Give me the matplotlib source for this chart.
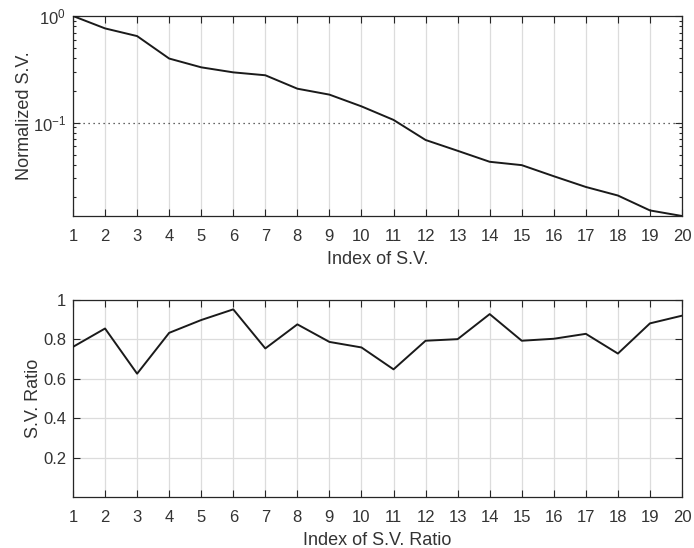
import matplotlib
matplotlib.use("Agg")
import matplotlib.pyplot as plt
from matplotlib.ticker import FixedLocator, FixedFormatter, LogLocator, NullFormatter

plt.rcParams['font.family'] = ['Liberation Sans', 'DejaVu Sans']
plt.rcParams['mathtext.fontset'] = 'custom'
plt.rcParams['mathtext.rm'] = 'Liberation Sans'

idx = list(range(1, 21))
sv = [1.0, 0.765, 0.648, 0.399, 0.330, 0.296, 0.278, 0.208, 0.183, 0.142,
      0.106, 0.0687, 0.0544, 0.0429, 0.0399, 0.0314, 0.0249, 0.0207, 0.0150, 0.0133]
ratio = [0.761, 0.854, 0.625, 0.832, 0.897, 0.951, 0.753, 0.875, 0.786, 0.758,
         0.647, 0.792, 0.800, 0.927, 0.792, 0.802, 0.827, 0.727, 0.880, 0.919]
xlabels = [str(i) for i in idx]
ratio_ticks = [0.2, 0.4, 0.6, 0.8, 1.0]
ratio_tick_labels = ['0.2', '0.4', '0.6', '0.8', '1']

W, H = 694, 548
fig = plt.figure(figsize=(W / 100, H / 100), dpi=100)
txt = '#333333'
fs = 12
lfs = 13

def style(ax):
    for s in ax.spines.values():
        s.set_color('#262626')
        s.set_linewidth(0.9)
    ax.tick_params(axis='both', which='both', direction='in', top=True, right=True,
                   colors='#262626', labelcolor=txt, labelsize=fs, width=0.8)
    ax.tick_params(axis='both', which='major', length=5)
    ax.tick_params(axis='both', which='minor', length=2.5)
    ax.tick_params(axis='x', pad=9.5)
    ax.tick_params(axis='y', pad=5)

# Top axes
ax1 = fig.add_axes([73 / W, 1 - 216 / H, 609 / W, 200 / H])
ax1.plot(idx, sv, color='#1a1a1a', lw=1.4, zorder=3)
ax1.set_yscale('log')
ax1.set_xlim(1, 20)
ax1.set_ylim(min(sv), 1)
ax1.xaxis.set_major_locator(FixedLocator(idx))
ax1.xaxis.set_major_formatter(FixedFormatter(xlabels))
ax1.yaxis.set_major_locator(FixedLocator([0.1, 1.0]))
ax1.yaxis.set_major_formatter(FixedFormatter([r'$\mathregular{10^{-1}}$', r'$\mathregular{10^{0}}$']))
ax1.yaxis.set_minor_locator(LogLocator(base=10, subs=range(2, 10)))
ax1.yaxis.set_minor_formatter(NullFormatter())
ax1.grid(axis='x', which='major', color='#dcdcdc', lw=0.9)
ax1.axhline(0.1, color='#333333', lw=0.9, ls=(0, (1, 3)), zorder=2)
style(ax1)
ax1.set_xlabel('Index of S.V.', fontsize=lfs, color=txt, labelpad=5)
ax1.set_ylabel('Normalized S.V.', fontsize=lfs, color=txt, labelpad=0)

# Bottom axes
ax2 = fig.add_axes([73 / W, 1 - 497 / H, 609 / W, 197.3 / H])
ax2.plot(idx, ratio, color='#1a1a1a', lw=1.4, zorder=3)
ax2.set_xlim(1, 20)
ax2.set_ylim(0, 1)
ax2.xaxis.set_major_locator(FixedLocator(idx))
ax2.xaxis.set_major_formatter(FixedFormatter(xlabels))
ax2.yaxis.set_major_locator(FixedLocator(ratio_ticks))
ax2.yaxis.set_major_formatter(FixedFormatter(ratio_tick_labels))
ax2.grid(True, which='major', color='#dcdcdc', lw=0.9)
style(ax2)
ax2.set_xlabel('Index of S.V. Ratio', fontsize=lfs, color=txt, labelpad=5)
ax2.set_ylabel('S.V. Ratio', fontsize=lfs, color=txt, labelpad=0.5)

fig.savefig('out.png', dpi=100)
